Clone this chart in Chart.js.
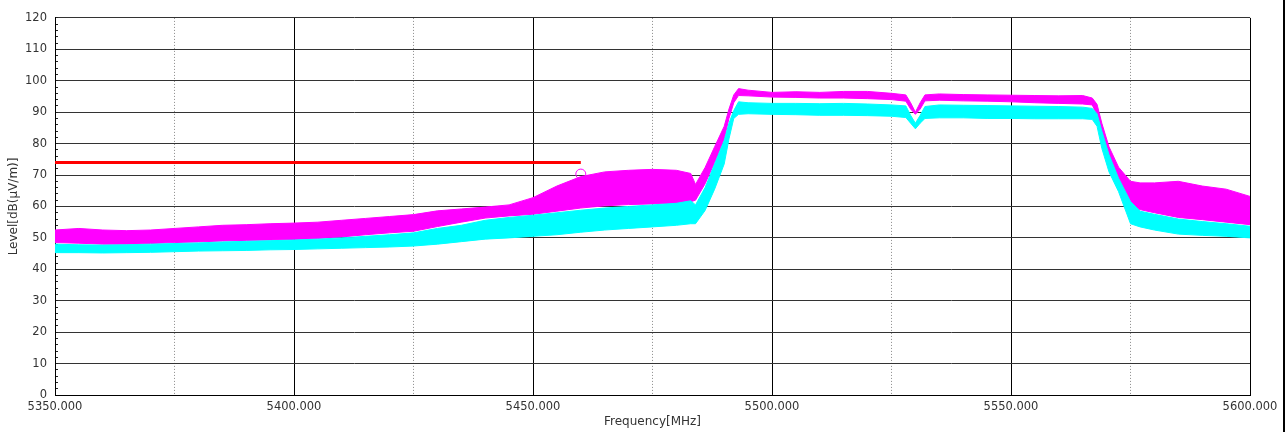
<!DOCTYPE html>
<html>
<head>
<meta charset="utf-8">
<script src="https://cdn.jsdelivr.net/npm/chart.js@4.4.1/dist/chart.umd.min.js"></script>
<style>
  html, body { margin: 0; padding: 0; background: #fff; overflow: hidden; }
  #c { display: block; }
</style>
</head>
<body>
<canvas id="c" width="1285" height="432"></canvas>
<script>
// Frequency sample points [MHz]
const freq = [5350,5355,5360,5365,5370,5375,5380,5385,5390,5395,5400,5405,5410,5415,5420,5425,5430,5435,5440,5445,5450,5455,5460,5465,5470,5475,5480,5483,5484,5486,5488,5490,5491,5492,5493,5495,5500,5505,5510,5515,5520,5525,5528,5529,5530,5531,5532,5535,5540,5545,5550,5555,5560,5565,5567,5568,5569,5570.5,5572.5,5575,5577,5580,5585,5590,5595,5600];
// Magenta trace (peak) upper / lower envelope [dB(uV/m)]
const magentaTop = [52.5,53.0,52.5,52.3,52.5,53.0,53.5,54.0,54.2,54.5,54.7,55.0,55.6,56.2,56.8,57.4,58.6,59.2,59.8,60.5,62.8,66.5,69.5,71.0,71.5,71.8,71.5,70.5,67.0,72.4,79.0,85.5,91.0,95.5,97.5,97.0,96.3,96.5,96.3,96.6,96.6,96.0,95.5,93.0,90.0,93.0,95.5,95.8,95.6,95.5,95.4,95.3,95.2,95.3,94.5,92.5,86.5,79.0,72.5,68.0,67.5,67.5,68.0,66.5,65.5,63.2];
const magentaBot = [48.5,48.3,48.0,48.0,48.2,48.5,48.7,49.0,49.2,49.3,49.5,49.8,50.3,51.0,51.6,52.1,53.6,55.0,56.3,57.0,57.5,58.5,59.5,60.2,60.6,60.8,61.0,61.5,62.0,67.2,74.0,81.5,88.0,93.0,95.3,95.2,94.8,94.7,94.5,94.5,94.3,94.0,93.5,91.0,89.3,91.0,93.6,93.8,93.6,93.5,93.3,93.0,92.8,92.6,92.3,89.0,81.0,74.2,67.9,60.5,59.0,58.0,56.5,55.8,55.0,54.2];
// Cyan trace (average) upper / lower envelope [dB(uV/m)]
const cyanTop = [48.0,47.8,47.7,47.8,48.0,48.2,48.4,48.7,48.9,49.1,49.3,49.6,50.0,50.5,51.0,51.6,53.0,54.0,55.6,56.5,57.2,58.0,58.8,59.5,60.0,60.5,61.0,61.8,60.5,66.0,73.5,81.0,86.5,90.5,93.3,93.0,92.8,92.8,92.7,92.8,92.6,92.3,92.0,89.0,86.5,89.0,91.8,92.3,92.2,92.1,92.0,91.9,91.8,91.6,91.2,89.5,84.0,76.5,69.0,61.6,58.5,57.5,56.0,55.2,54.5,53.7];
const cyanBot = [45.3,45.3,45.2,45.3,45.4,45.6,45.8,45.9,46.0,46.2,46.3,46.5,46.7,46.9,47.1,47.4,48.0,48.8,49.6,50.0,50.5,51.0,51.8,52.5,53.0,53.5,54.0,54.5,54.5,58.7,65.5,73.5,81.5,88.0,89.3,89.5,89.3,89.2,89.0,89.0,88.9,88.7,88.3,86.5,84.7,86.5,88.0,88.2,88.2,88.0,88.0,87.9,87.9,87.9,87.7,85.5,78.5,71.0,64.7,54.5,53.5,52.5,51.2,50.8,50.5,50.0];
// Limit line and marker
const limitFreq = [5350, 5460];
const limitLevel = [74, 74];
const markerFreq = [5460];
const markerLevel = [70.3];
// Axis settings
const xMin = 5350, xMax = 5600, xStep = 25, xMajor = 50;
const yMin = 0, yMax = 120, yStep = 2, yMajor = 10;

const MAG = '#ff00ff';
const CYN = '#00ffff';
const pts = (xs, ys) => xs.map((x, i) => ({ x: x, y: ys[i] }));
const FONT = "'DejaVu Sans', sans-serif";

// thin black frame edge at the right side of the picture
const edgePlugin = {
  id: 'edge',
  afterDraw(chart) {
    const ctx = chart.ctx;
    ctx.save();
    ctx.fillStyle = '#000';
    ctx.fillRect(chart.width - 2, 0, 2, chart.height);
    ctx.restore();
  }
};

new Chart(document.getElementById('c'), {
  type: 'line',
  plugins: [edgePlugin],
  data: {
    datasets: [
      { data: pts(freq, magentaBot), borderColor: MAG, borderWidth: 1, pointRadius: 0, fill: false, order: 3, tension: 0 },
      { data: pts(freq, magentaTop), borderColor: MAG, backgroundColor: MAG, borderWidth: 1, pointRadius: 0, fill: 0, order: 3, tension: 0 },
      { data: pts(freq, cyanBot), borderColor: CYN, borderWidth: 1, pointRadius: 0, fill: false, order: 2, tension: 0 },
      { data: pts(freq, cyanTop), borderColor: CYN, backgroundColor: CYN, borderWidth: 1, pointRadius: 0, fill: 2, order: 2, tension: 0 },
      { data: pts(limitFreq, limitLevel), borderColor: '#ff0000', borderWidth: 3, pointRadius: 0, fill: false, order: 1 },
      { data: pts(markerFreq, markerLevel), showLine: false, pointRadius: 5, pointBorderWidth: 1, pointBorderColor: MAG, pointBackgroundColor: 'rgba(0,0,0,0)', borderColor: MAG, order: 0 }
    ]
  },
  options: {
    responsive: false,
    animation: false,
    events: [],
    layout: { padding: { left: 0, right: 35, top: 15, bottom: 0 } },
    plugins: { legend: { display: false }, tooltip: { enabled: false } },
    scales: {
      x: {
        type: 'linear', min: xMin, max: xMax,
        afterFit: s => { s.height = 37; },
        ticks: {
          stepSize: xStep, autoSkip: false, maxRotation: 0, padding: 5,
          color: '#333', font: { family: FONT, size: 11.5 },
          callback: v => (Math.round(v) % xMajor === 0 ? Number(v).toFixed(3) : '')
        },
        grid: {
          drawTicks: false,
          color: c => (c.tick && Math.round(c.tick.value) % xMajor !== 0 ? '#8a8a8a' : '#000'),
          lineWidth: 1
        },
        border: {
          color: '#000', width: 1,
          dash: c => (c.tick && Math.round(c.tick.value) % xMajor !== 0 ? [1, 2] : [])
        },
        title: { display: true, text: 'Frequency[MHz]', color: '#333', font: { family: FONT, size: 12 }, padding: { top: 0, bottom: 3 } }
      },
      y: {
        min: yMin, max: yMax,
        afterFit: s => { s.width = 55; },
        ticks: {
          stepSize: yStep, autoSkip: false, padding: 11,
          color: '#333', font: { family: FONT, size: 11.5 },
          callback: v => (Math.round(v) % yMajor === 0 ? String(Math.round(v)) : '')
        },
        grid: {
          drawTicks: true, tickLength: -3, tickWidth: 1, tickColor: '#222',
          color: c => (c.tick && Math.round(c.tick.value) % yMajor === 0 ? '#333' : 'rgba(0,0,0,0)'),
          lineWidth: 1
        },
        border: { color: '#000', width: 1 },
        title: { display: true, text: 'Level[dB(μV/m)]', color: '#333', font: { family: FONT, size: 12 }, padding: { top: 7, bottom: 0 } }
      }
    }
  }
});
</script>
</body>
</html>
